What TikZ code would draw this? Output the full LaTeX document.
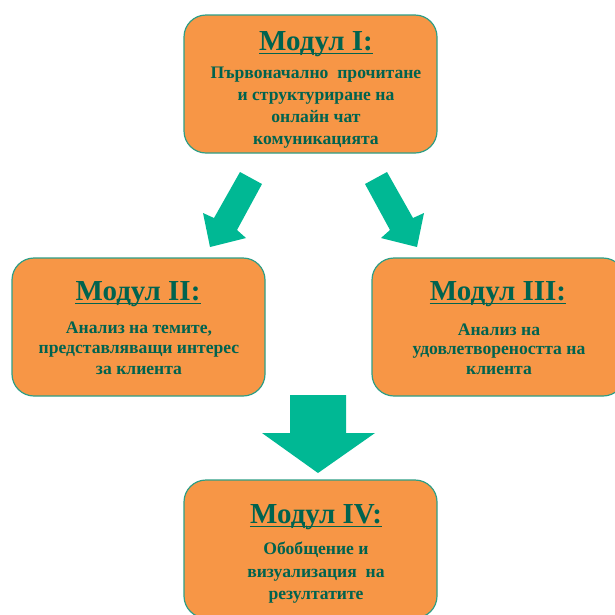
\documentclass[tikz,border=0pt]{standalone}
\usepackage{fontspec}
\setmainfont{Liberation Serif}
\definecolor{boxfill}{HTML}{F79646}
\definecolor{boxline}{HTML}{2E9E86}
\definecolor{txt}{HTML}{00634F}
\definecolor{arr}{HTML}{00B894}
\tikzset{
 modbox/.style={draw=boxline, line width=1.2pt, fill=boxfill, rounded corners=22pt, minimum width=253pt, minimum height=138pt, inner sep=0pt},
 modtitle/.style={text=txt, font=\bfseries\fontsize{29}{32}\selectfont, inner sep=0pt, anchor=base},
 modbody/.style={text=txt, font=\bfseries\fontsize{17.6}{#1}\selectfont, align=center, inner sep=0pt},
 uline/.style={draw=txt, line width=1.8pt},
 blockarrow/.style={fill=arr, draw=none}
}
\begin{document}
\begin{tikzpicture}[x=1pt,y=-1pt]
\useasboundingbox (0,0) rectangle (615,614);
\clip (0,0) rectangle (615,614);
% boxes
\node[modbox] (m1) at (310.5,84) {};
\node[modbox] (m2) at (138.5,327) {};
\node[modbox] (m3) at (498.5,327) {};
\node[modbox] (m4) at (310.5,549) {};
% titles
\node[modtitle] (t1) at (316,50) {Модул I:};
\node[modtitle] (t2) at (138,300) {Модул II:};
\node[modtitle] (t3) at (498,300) {Модул III:};
\node[modtitle] (t4) at (316,523) {Модул IV:};
\foreach \t in {t1,t2,t3,t4}{
  \draw[uline] ([yshift=-3.5pt]\t.base west) -- ([yshift=-3.5pt]\t.base east);
}
% bodies
\node[modbody=21.9] (b1) at (316,107.5) {Първоначално \ прочитане\\и структуриране на\\онлайн чат\\комуникацията};
\node[modbody=20.5] (b2) at (139,348) {Анализ на темите,\\представляващи интерес\\за клиента};
\node[modbody=19.5] (b3) at (499,349) {Анализ на\\удовлетвореността на\\клиента};
\node[modbody=22.5] (b4) at (316,573) {Обобщение и\\визуализация \ на\\резултатите};
% arrows
\fill[blockarrow] (240,172) -- (262,184) -- (237,230) -- (246,238) -- (210,247) -- (203,213) -- (214,218) -- cycle;
\fill[blockarrow] (387,172) -- (365,184) -- (390,230) -- (381,238) -- (417,247) -- (424,213) -- (413,218) -- cycle;
\fill[blockarrow] (290,395) -- (346,395) -- (346,433) -- (375,433) -- (318,473) -- (262,433) -- (290,433) -- cycle;
\end{tikzpicture}
\end{document}
